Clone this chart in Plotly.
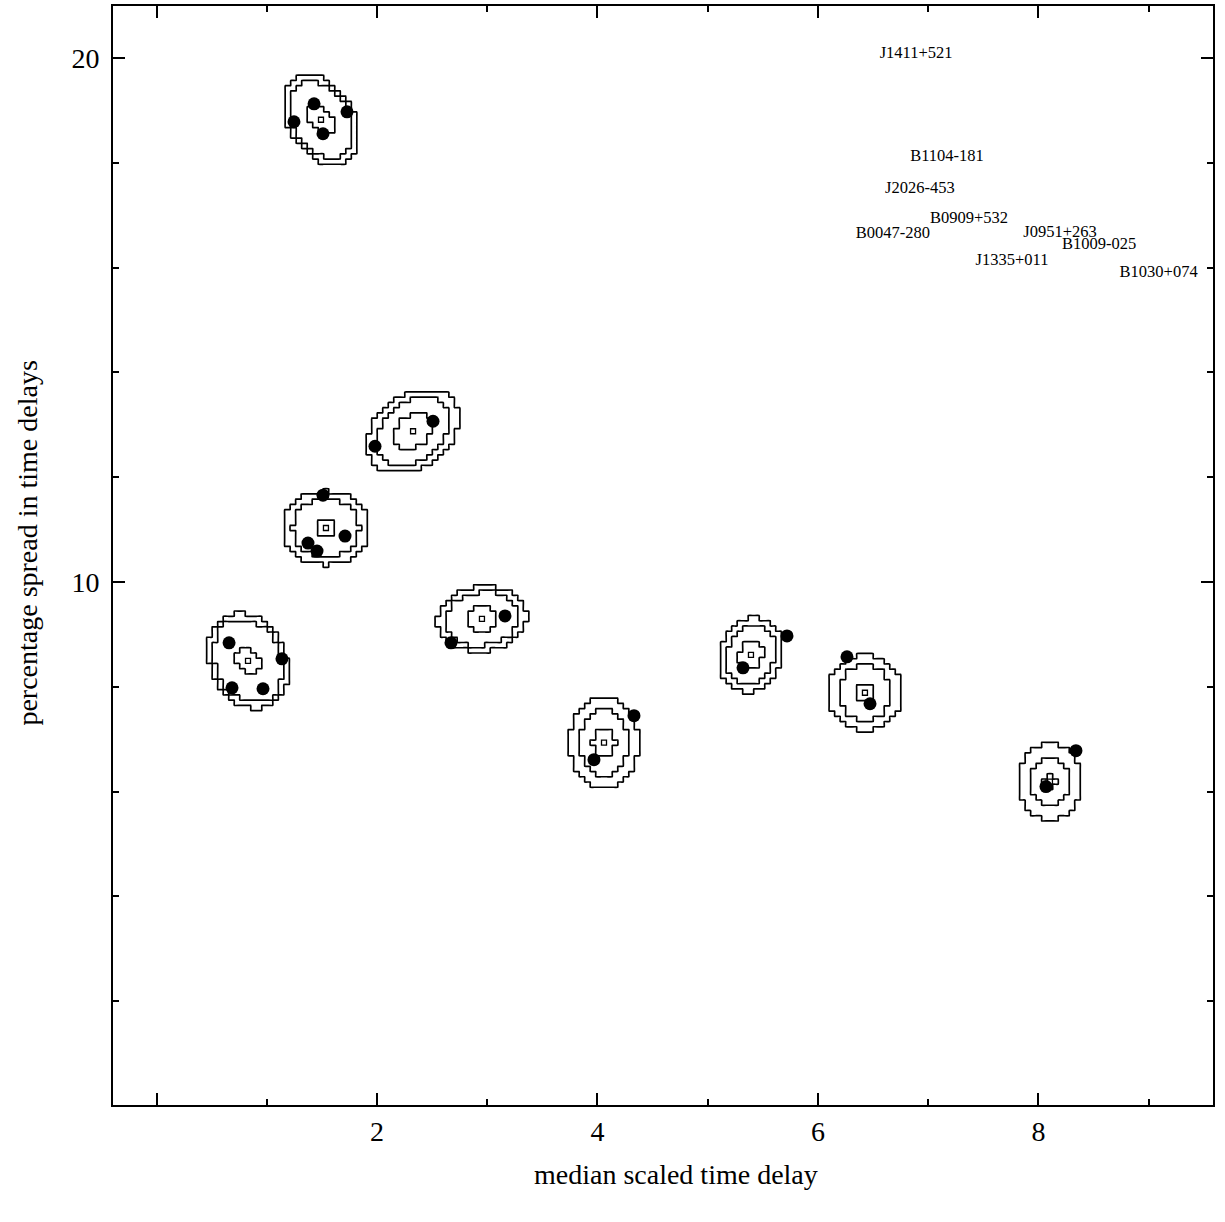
import numpy as np
import plotly.graph_objects as go

# ---- data ----
# lens-system labels (as printed in the upper right)
label_names = ["J1411+521", "B1104-181", "J2026-453", "B0909+532", "B0047-280",
               "J0951+263", "B1009-025", "J1335+011", "B1030+074"]
label_x = [6.89, 7.17, 6.925, 7.37, 6.68, 8.195, 8.55, 7.76, 9.09]
label_y = [20.08, 18.11, 17.50, 16.93, 16.65, 16.67, 16.44, 16.13, 15.89]

# posterior centre and spread of each system (median scaled delay, % spread)
center_x = [1.492, 2.327, 1.537, 0.830, 2.952, 4.059, 5.392, 6.426, 8.104]
center_y = [18.82, 12.876, 11.03, 8.495, 9.295, 6.933, 8.61, 7.886, 6.19]
sigma_x = [0.115, 0.139, 0.130, 0.121, 0.136, 0.106, 0.095, 0.112, 0.098]
sigma_y = [0.286, 0.267, 0.235, 0.305, 0.206, 0.292, 0.238, 0.244, 0.244]
corr = [-0.35, 0.3, 0.0, -0.2, 0.1, 0.0, 0.15, 0.0, 0.0]
# contour radii (in sigma units) of the outer, middle and inner regions
outer_r = [3.0, 3.0, 3.0, 3.0, 3.0, 3.0, 3.0, 3.0, 3.0]
middle_r = [2.52, 2.4, 2.31, 2.61, 2.49, 2.13, 2.4, 2.13, 1.89]
inner_r = [1.0, 1.25, 0.62, 0.85, 1.1, 0.95, 1.15, 0.7, 0.62]

# individual delay points (filled dots)
point_x = [1.247, 1.429, 1.510, 1.728,
           1.982, 2.508,
           1.510, 1.374, 1.456, 1.710,
           0.658, 0.685, 0.966, 1.138,
           2.671, 3.161,
           3.968, 4.331,
           5.320, 5.719,
           6.263, 6.472,
           8.068, 8.340]
point_y = [18.781, 19.124, 18.552, 18.971,
           12.590, 13.067,
           11.657, 10.743, 10.590, 10.876,
           8.838, 7.981, 7.962, 8.533,
           8.838, 9.352,
           6.610, 7.448,
           8.362, 8.971,
           8.571, 7.676,
           6.095, 6.781]

x_tickvals = [0, 2, 4, 6, 8]
x_ticktext = ["", "2", "4", "6", "8"]
x_minor = [1, 3, 5, 7, 9]
y_tickvals = [10, 20]
y_ticktext = ["10", "20"]
y_minor = [2, 4, 6, 8, 12, 14, 16, 18]

cell_dx, cell_dy = 0.05, 0.1

FONT = "Liberation Serif"

fig = go.Figure()

for cx, cy, sx, sy, rho, r1, r2, r3 in zip(center_x, center_y, sigma_x, sigma_y, corr,
                                           outer_r, middle_r, inner_r):
    nx = int(np.ceil((r1 + 1.2) * sx / cell_dx)) + 2
    ny = int(np.ceil((r1 + 1.2) * sy / cell_dy)) + 2
    gx = cx + np.arange(-nx, nx + 1) * cell_dx
    gy = cy + np.arange(-ny, ny + 1) * cell_dy
    X, Y = np.meshgrid(gx, gy)
    u = (X - cx) / sx
    v = (Y - cy) / sy
    q = (u * u - 2 * rho * u * v + v * v) / (1 - rho * rho)
    lev = np.zeros_like(q)
    for r in (r1, r2, r3):
        lev += (q <= r * r).astype(float)
    # binned (stepped) representation: two samples per cell close to its edges
    eps_x, eps_y = cell_dx * 0.02, cell_dy * 0.02
    xs = np.ravel(np.column_stack([gx - cell_dx / 2 + eps_x, gx + cell_dx / 2 - eps_x]))
    ys = np.ravel(np.column_stack([gy - cell_dy / 2 + eps_y, gy + cell_dy / 2 - eps_y]))
    zs = np.repeat(np.repeat(lev, 2, axis=0), 2, axis=1)
    fig.add_trace(go.Contour(
        x=np.round(xs, 5), y=np.round(ys, 5), z=zs,
        contours=dict(coloring="lines", start=0.5, end=2.5, size=1, showlabels=False),
        colorscale=[[0, "black"], [1, "black"]],
        line=dict(width=1.7, color="black"),
        showscale=False, hoverinfo="skip", showlegend=False,
    ))

# centre markers
fig.add_trace(go.Scatter(
    x=center_x, y=center_y, mode="markers",
    marker=dict(symbol="square-open", size=5, color="black", line=dict(width=1.3)),
    hoverinfo="skip", showlegend=False,
))

# dots
fig.add_trace(go.Scatter(
    x=point_x, y=point_y, mode="markers",
    marker=dict(symbol="circle", size=13, color="black"),
    hoverinfo="skip", showlegend=False,
))

# labels
fig.add_trace(go.Scatter(
    x=label_x, y=label_y, mode="text", text=label_names,
    textposition="middle center",
    textfont=dict(family=FONT, size=16.5, color="black"),
    hoverinfo="skip", showlegend=False,
))

axis_common = dict(
    showgrid=False, zeroline=False, showline=True, linecolor="black", linewidth=2,
    mirror="ticks", ticks="inside", ticklen=12, tickwidth=2, tickcolor="black",
    tickfont=dict(family=FONT, size=28, color="black"),
)

fig.update_xaxes(
    range=[-0.3946, 9.583], tickmode="array", tickvals=x_tickvals, ticktext=x_ticktext,
    minor=dict(tickmode="array", tickvals=x_minor, ticks="inside", ticklen=6,
               tickwidth=2, tickcolor="black", showgrid=False),
    **axis_common,
)
fig.update_yaxes(
    range=[0.02, 20.99], tickmode="array", tickvals=y_tickvals, ticktext=y_ticktext,
    minor=dict(tickmode="array", tickvals=y_minor, ticks="inside", ticklen=6,
               tickwidth=2, tickcolor="black", showgrid=False),
    ticklabelstandoff=6,
    **axis_common,
)

fig.add_annotation(text="median scaled time delay", xref="paper", yref="paper",
                   x=0.512, y=-0.0636, showarrow=False, xanchor="center", yanchor="middle",
                   font=dict(family=FONT, size=28, color="black"))
fig.add_annotation(text="percentage spread in time delays", xref="paper", yref="paper",
                   x=-0.078, y=0.511, showarrow=False, xanchor="center", yanchor="middle",
                   textangle=-90, font=dict(family=FONT, size=28, color="black"))

fig.update_layout(
    width=1225, height=1222,
    margin=dict(l=113, r=12, t=4, b=117),
    paper_bgcolor="white", plot_bgcolor="white",
    showlegend=False,
)

fig.write_html("out.html", config={"displayModeBar": False},
               post_script="document.body.style.margin='0px';document.body.style.padding='0px';")
